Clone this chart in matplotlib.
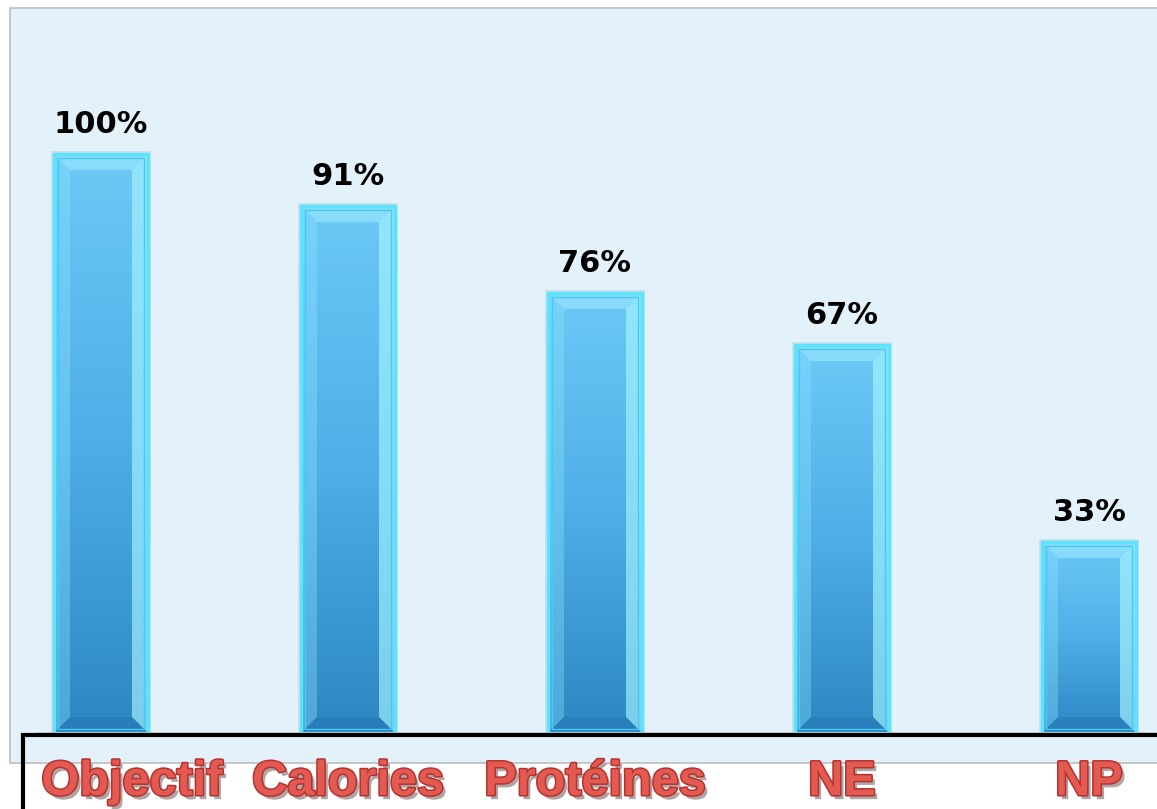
import matplotlib
matplotlib.use('Agg')
import matplotlib.pyplot as plt
import numpy as np
from matplotlib.patches import Rectangle, Polygon
from matplotlib.colors import LinearSegmentedColormap
import matplotlib.patheffects as pe

categories = ['Objectif', 'Calories', 'Protéines', 'NE', 'NP']
values = [100, 91, 76, 67, 33]
value_labels = ['100%', '91%', '76%', '67%', '33%']

W, H = 1157, 809
fig = plt.figure(figsize=(W / 100, H / 100), dpi=100)
fig.patch.set_facecolor('white')

# light blue panel
fig.patches.append(Rectangle((10 / W, 1 - 763 / H), (W - 9) / W, (763 - 8) / H,
                             transform=fig.transFigure, facecolor='#E3F1FB',
                             edgecolor='#BDBDBD', lw=1.2, zorder=-5))

ax = fig.add_axes([0, 1 - 733 / H, 1, (733 - 8) / H])
ax.set_zorder(1)
ax.set_facecolor('none')
spacing = 247.0
xlim = (-101 / spacing, (W - 101) / spacing)
ylim = (0, (733 - 8) / 579 * 100)
for s in ax.spines.values():
    s.set_visible(False)
ax.set_xticks([])
ax.set_yticks([])

x = np.arange(len(categories))
bw = 94 / spacing
bars = ax.bar(x, values, width=bw, color='none', edgecolor='#5BE3FF', linewidth=2.5, zorder=5)

cmap = LinearSegmentedColormap.from_list('bar', ['#2C86C2', '#4FAEE6', '#6CC9F7'])
grad = np.linspace(1, 0, 256).reshape(256, 1)
bx = 16 / spacing
by = 16 / 579 * 100
for rect in bars:
    x0, y0 = rect.get_xy()
    w, h = rect.get_width(), rect.get_height()
    # soft shadow
    ax.add_patch(Rectangle((x0 - 3 / spacing, y0), w + 6 / spacing, h + 3 / 579 * 100,
                           facecolor='#9AA8B4', alpha=0.25, edgecolor='none', zorder=1))
    im = ax.imshow(grad, extent=(x0, x0 + w, y0, y0 + h), aspect='auto', cmap=cmap,
                   zorder=2, interpolation='bicubic')
    clip = Rectangle((x0, y0), w, h, transform=ax.transData)
    im.set_clip_path(clip)
    # bevels
    top = Polygon([(x0, y0 + h), (x0 + w, y0 + h), (x0 + w - bx, y0 + h - by), (x0 + bx, y0 + h - by)],
                  closed=True, facecolor='#A8F0FF', alpha=0.5, edgecolor='none', zorder=3)
    left = Polygon([(x0, y0), (x0, y0 + h), (x0 + bx, y0 + h - by), (x0 + bx, y0 + by)],
                   closed=True, facecolor='#8FE6FF', alpha=0.35, edgecolor='none', zorder=3)
    right = Polygon([(x0 + w, y0), (x0 + w, y0 + h), (x0 + w - bx, y0 + h - by), (x0 + w - bx, y0 + by)],
                    closed=True, facecolor='#A6F6FF', alpha=0.65, edgecolor='none', zorder=3)
    bottom = Polygon([(x0, y0), (x0 + w, y0), (x0 + w - bx, y0 + by), (x0 + bx, y0 + by)],
                     closed=True, facecolor='#1F6FAA', alpha=0.35, edgecolor='none', zorder=3)
    for p in (top, left, right, bottom):
        ax.add_patch(p)
    ax.add_patch(Rectangle((x0 + 4 / spacing, y0 + 4 / 579 * 100), w - 8 / spacing, h - 8 / 579 * 100,
                           facecolor='none', edgecolor='#48C9F2', lw=1.0, zorder=4))

for xi, v, lab in zip(x, values, value_labels):
    ax.annotate(lab, (xi, v), xytext=(0, 15), textcoords='offset points',
                ha='center', va='baseline', fontsize=22, fontweight='bold',
                family='DejaVu Sans', color='black', zorder=6)

ax.set_xlim(*xlim)
ax.set_ylim(*ylim)

# baseline gray line
ax.axhline(0, xmin=38 / W, xmax=1, color='#C8CDD2', lw=1.2, zorder=6)

# black box around category labels
fig.patches.append(Rectangle((23 / W, -5 / H), (W + 10 - 23) / W, (809 - 735 + 5) / H,
                             transform=fig.transFigure, facecolor='none',
                             edgecolor='black', lw=3, zorder=3))

label_offsets_px = [31, 0, 0, 0, 0]
effects = [pe.SimplePatchShadow(offset=(2.5, -3), shadow_rgbFace='#7a6a6a', alpha=0.6),
           pe.Stroke(linewidth=2.2, foreground='#B5332F'), pe.Normal()]
for xi, cat, off in zip(x, categories, label_offsets_px):
    px = ax.transData.transform((xi, 0))[0] + off
    fig.text(px / W, 1 - 795 / H, cat, ha='center', va='baseline', fontsize=35,
             fontweight='bold', family='Liberation Sans', color='#E35A52',
             path_effects=effects, zorder=5)

fig.savefig('out.png', dpi=100, facecolor='white')
